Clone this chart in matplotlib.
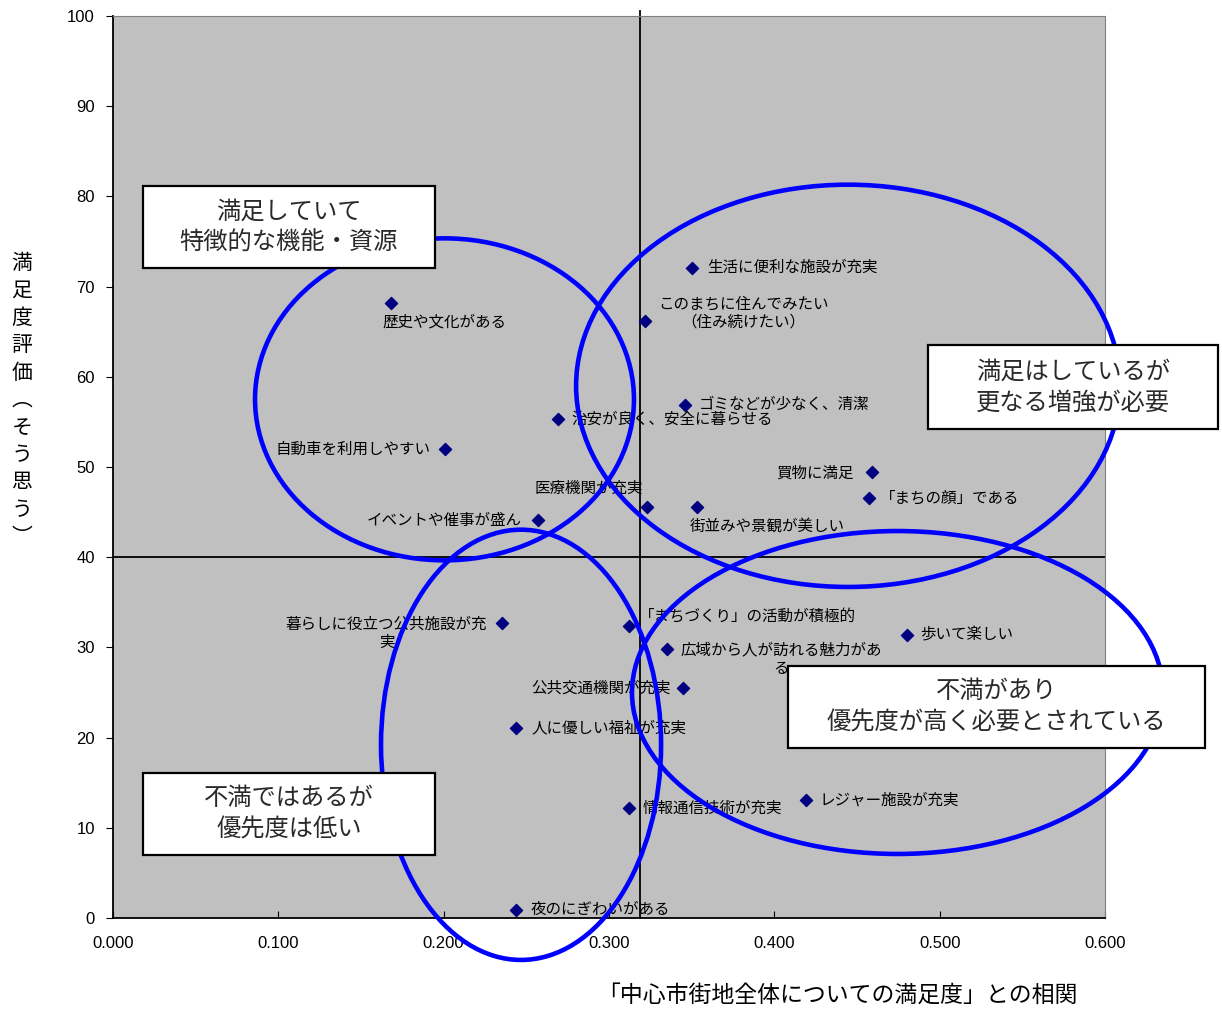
import matplotlib
matplotlib.use("Agg")
import matplotlib.pyplot as plt
from matplotlib.patches import Ellipse, Rectangle

plt.rcParams['font.family'] = ['Noto Sans CJK JP', 'DejaVu Sans']

# 項目名, 相関係数, 満足度評価
items = [
    "歴史や文化がある", "自動車を利用しやすい", "治安が良く、安全に暮らせる",
    "イベントや催事が盛ん", "生活に便利な施設が充実",
    "このまちに住んでみたい\n（住み続けたい）", "ゴミなどが少なく、清潔",
    "医療機関が充実", "街並みや景観が美しい", "買物に満足", "「まちの顔」である",
    "暮らしに役立つ公共施設が充\n実", "「まちづくり」の活動が積極的",
    "広域から人が訪れる魅力があ\nる", "公共交通機関が充実", "人に優しい福祉が充実",
    "情報通信技術が充実", "夜のにぎわいがある", "歩いて楽しい", "レジャー施設が充実",
]
corr = [0.168, 0.201, 0.269, 0.257, 0.350, 0.322, 0.346, 0.323, 0.353, 0.459,
        0.457, 0.235, 0.312, 0.335, 0.345, 0.244, 0.312, 0.244, 0.480, 0.419]
score = [68.2, 52.0, 55.3, 44.1, 72.1, 66.2, 56.9, 45.6, 45.6, 49.4,
         46.6, 32.7, 32.4, 29.8, 25.5, 21.1, 12.2, 0.9, 31.4, 13.1]

x_mid = 0.319
y_mid = 40

quadrant_notes = [
    "満足していて\n特徴的な機能・資源",
    "満足はしているが\n更なる増強が必要",
    "不満があり\n優先度が高く必要とされている",
    "不満ではあるが\n優先度は低い",
]

# label placement (offset pixels, ha)
label_pos = [
    (-8, -19, 'left'), (-15, 0, 'right'), (14, 0, 'left'), (-16, 0, 'right'),
    (15, 0, 'left'), (98, 8, 'center'), (14, 0, 'left'), (-4, 18, 'right'),
    (-7, -19, 'left'), (-18, -1, 'right'), (11, 0, 'left'), (-115, -10, 'center'),
    (10, 9, 'left'), (114, -10, 'center'), (-13, 0, 'right'), (15, 0, 'left'),
    (14, 0, 'left'), (14, 0, 'left'), (14, 0, 'left'), (14, 0, 'left'),
]

fig = plt.figure(figsize=(12.22, 10.09), dpi=100)
ax = fig.add_axes([113 / 1222, 1 - 918 / 1009, 992 / 1222, 902 / 1009])
ax.set_facecolor('#C0C0C0')
ax.set_xlim(0, 0.6)
ax.set_ylim(0, 100)

ax.plot([x_mid, x_mid], [0, 100.6], color='black', lw=1.3, clip_on=False, zorder=2)
ax.plot([0, 0.6], [y_mid, y_mid], color='black', lw=1.3, zorder=2)

ax.scatter(corr, score, marker='D', s=38, color='#000080', zorder=3)

for name, x, y, (dx, dy, ha) in zip(items, corr, score, label_pos):
    ax.annotate(name, (x, y), xytext=(dx, dy), textcoords='offset pixels',
                ha=ha, va='center', fontsize=11.2, color='black',
                multialignment='center', linespacing=1.1, zorder=3)

# 楕円（四象限のグループ）
ellipses = [
    ((0.2005, 57.5), 0.2292, 35.7),
    ((0.4446, 59.0), 0.329, 44.6),
    ((0.2468, 19.2), 0.1694, 47.7),
    ((0.4745, 25.0), 0.3212, 35.8),
]
for c, w, h in ellipses:
    ax.add_patch(Ellipse(c, w, h, fill=False, edgecolor='#0000FF', lw=3.3,
                         clip_on=False, zorder=4))

boxes = [
    (0.0302, 0.7206, 0.2944, 0.0909),
    (0.8216, 0.5421, 0.2923, 0.0932),
    (0.6804, 0.1885, 0.4204, 0.0909),
    (0.0302, 0.0698, 0.2944, 0.0910),
]
for note, (bx, by, bw, bh) in zip(quadrant_notes, boxes):
    ax.add_patch(Rectangle((bx, by), bw, bh, transform=ax.transAxes,
                           facecolor='white', edgecolor='black', lw=1.6,
                           clip_on=False, zorder=5))
    ax.text(bx + bw / 2, by + bh / 2, note, transform=ax.transAxes,
            ha='center', va='center', fontsize=17.5, color='#2a2a2a',
            linespacing=1.25, zorder=6)

ax.set_xticks([0, 0.1, 0.2, 0.3, 0.4, 0.5, 0.6])
ax.set_xticklabels([f"{v:.3f}" for v in [0, 0.1, 0.2, 0.3, 0.4, 0.5, 0.6]])
ax.set_yticks(range(0, 101, 10))
ax.tick_params(axis='x', direction='in', length=5, pad=13, labelsize=12)
ax.tick_params(axis='y', direction='out', length=5, pad=8, labelsize=12)
for lab in ax.get_xticklabels() + ax.get_yticklabels():
    lab.set_family(['Liberation Sans', 'DejaVu Sans'])

for s in ['top', 'right']:
    ax.spines[s].set_color('#808080')
for s in ['left', 'bottom']:
    ax.spines[s].set_color('black')
    ax.spines[s].set_linewidth(1.3)

fig.text(837 / 1222, 1 - 995 / 1009, "「中心市街地全体についての満足度」との相関",
         ha='center', va='center', fontsize=16.5)
ylab = "満足度評価︵そう思う︶"
fig.text(22 / 1222, 1 - 400 / 1009, "\n".join(ylab), ha='center', va='center',
         fontsize=15, linespacing=1.32)

fig.savefig("out.png", dpi=100)
